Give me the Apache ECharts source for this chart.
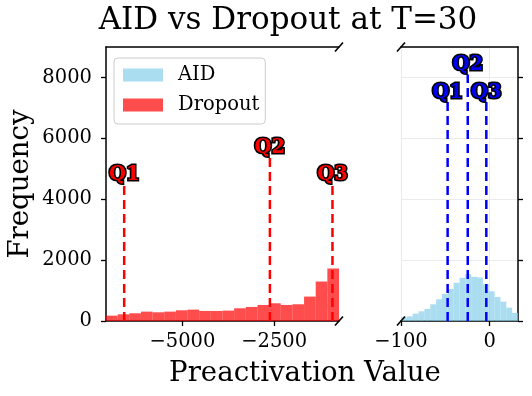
<!DOCTYPE html>
<html>
<head>
<meta charset="utf-8">
<script src="https://cdn.jsdelivr.net/npm/echarts@6/dist/echarts.min.js"></script>
<style>
html, body { margin: 0; padding: 0; background: #fff; }
#chart { width: 532px; height: 396px; }
</style>
</head>
<body>
<div id="chart"></div>
<script>
// histogram data (20 bins per panel)
var dropoutRange = [-7080, -735];
var dropoutCounts = [176, 220, 253, 308, 286, 308, 352, 374, 330, 330, 341, 418, 462, 527, 582, 527, 550, 802, 1297, 1725];
var aidRange = [-100, 32];
var aidCounts = [121, 154, 242, 319, 396, 549, 714, 890, 1055, 1253, 1418, 1538, 1451, 1429, 1209, 978, 791, 637, 440, 264];

// quartile markers and the height the dashed line goes up to
var quartileNames = ['Q1', 'Q2', 'Q3'];
var dropoutQuartiles = [-6585, -2617, -913];
var dropoutQuartileTops = [4500, 5400, 4500];
var aidQuartiles = [-47.4, -24.7, -3.75];
var aidQuartileTops = [7200, 8100, 7200];

var yMax = 9000;
var yTicks = [0, 2000, 4000, 6000, 8000];
var dropoutTicks = [-5000, -2500];
var aidTicks = [-100, 0];

var RED = 'rgba(255,0,0,0.7)';
var BLUE = 'rgba(135,206,235,0.7)';
var FONT = 'DejaVu Serif';

function toBins(range, counts) {
	var w = (range[1] - range[0]) / counts.length;
	var out = [];
	for (var i = 0; i < counts.length; i++) {
		out.push([range[0] + i * w, range[0] + (i + 1) * w, counts[i]]);
	}
	return out;
}

function quartileData(xs, tops) {
	var out = [];
	for (var i = 0; i < xs.length; i++) {
		out.push([xs[i], tops[i], quartileNames[i]]);
	}
	return out;
}

function histRenderer(color) {
	return function (params, api) {
		var p0 = api.coord([api.value(0), api.value(2)]);
		var p1 = api.coord([api.value(1), 0]);
		return {
			type: 'rect',
			shape: { x: p0[0], y: p0[1], width: p1[0] - p0[0], height: p1[1] - p0[1] },
			style: { fill: color }
		};
	};
}

function quartileRenderer(color) {
	return function (params, api) {
		var x = api.value(0);
		var top = api.coord([x, api.value(1)]);
		var bottom = api.coord([x, 0]);
		return {
			type: 'group',
			children: [{
				type: 'line',
				shape: { x1: bottom[0], y1: bottom[1], x2: top[0], y2: top[1] },
				style: { stroke: color, lineWidth: 2.5, lineDash: [9, 5] }
			}, {
				type: 'text',
				x: top[0],
				y: top[1] + 1,
				style: {
					text: api.value(2),
					fill: color,
					font: 'bold 19.5px "' + FONT + '"',
					textAlign: 'center', textVerticalAlign: 'bottom',
					align: 'center', verticalAlign: 'bottom',
					stroke: '#000', lineWidth: 3.2
				}
			}]
		};
	};
}

function breakRenderer(params, api) {
	var p = api.coord([api.value(0), api.value(1)]);
	return {
		type: 'line',
		shape: { x1: p[0] - 4, y1: p[1] + 4.5, x2: p[0] + 4, y2: p[1] - 4.5 },
		style: { stroke: '#000', lineWidth: 1.6 }
	};
}

function minusFmt(v) {
	return String(v).replace('-', '\u2212');
}

var axisLineStyle = { color: '#000', width: 1.5 };
var tickStyle = { color: '#000', width: 1.3 };
var labelStyle = { color: '#000', fontFamily: FONT, fontSize: 19.5 };

var chart = echarts.init(document.getElementById('chart'));
chart.setOption({
	animation: false,
	graphic: [{
		type: 'text', x: 288, y: 21,
		style: { text: 'AID vs Dropout at T=30', font: '31px "' + FONT + '"', fill: '#000',
			textAlign: 'center', textVerticalAlign: 'middle', align: 'center', verticalAlign: 'middle' }
	}, {
		type: 'text', x: 305, y: 374,
		style: { text: 'Preactivation Value', font: '27.6px "' + FONT + '"', fill: '#000',
			textAlign: 'center', textVerticalAlign: 'middle', align: 'center', verticalAlign: 'middle' }
	}, {
		type: 'text', x: 21, y: 184, rotation: Math.PI / 2,
		style: { text: 'Frequency', font: '27.6px "' + FONT + '"', fill: '#000',
			textAlign: 'center', textVerticalAlign: 'middle', align: 'center', verticalAlign: 'middle' }
	}],
	legend: {
		orient: 'vertical',
		left: 114, top: 58,
		data: [
			{ name: 'AID', itemStyle: { color: BLUE } },
			{ name: 'Dropout', itemStyle: { color: RED } }
		],
		icon: 'rect',
		itemWidth: 40, itemHeight: 13,
		itemGap: 10,
		padding: [7, 6, 9, 9],
		borderColor: '#cccccc', borderWidth: 1, borderRadius: 4,
		textStyle: { color: '#000', fontFamily: FONT, fontSize: 19.5, padding: [0, 0, 0, 10] }
	},
	grid: [
		{ left: 106, top: 47, width: 233, height: 274 },
		{ left: 401, top: 47, width: 117, height: 274 }
	],
	xAxis: [{
		gridIndex: 0, type: 'value', position: 'bottom',
		min: dropoutRange[0], max: dropoutRange[1],
		axisLine: { onZero: false, lineStyle: axisLineStyle },
		axisTick: { show: true, length: 5, lineStyle: tickStyle, customValues: dropoutTicks },
		axisLabel: Object.assign({ margin: 11, customValues: dropoutTicks, formatter: minusFmt }, labelStyle),
		splitLine: { show: false }
	}, {
		gridIndex: 0, type: 'value', position: 'top',
		min: dropoutRange[0], max: dropoutRange[1],
		axisLine: { onZero: false, lineStyle: axisLineStyle },
		axisTick: { show: false }, axisLabel: { show: false }, splitLine: { show: false }
	}, {
		gridIndex: 1, type: 'value', position: 'bottom',
		min: aidRange[0], max: aidRange[1],
		axisLine: { onZero: false, lineStyle: axisLineStyle },
		axisTick: { show: true, length: 5, lineStyle: tickStyle, customValues: aidTicks },
		axisLabel: Object.assign({ margin: 11, customValues: aidTicks, formatter: minusFmt }, labelStyle),
		splitLine: { show: true, lineStyle: { color: '#ebebeb', width: 1 } }
	}, {
		gridIndex: 1, type: 'value', position: 'top',
		min: aidRange[0], max: aidRange[1],
		axisLine: { onZero: false, lineStyle: axisLineStyle },
		axisTick: { show: false }, axisLabel: { show: false }, splitLine: { show: false }
	}],
	yAxis: [{
		gridIndex: 0, type: 'value', position: 'left',
		min: 0, max: yMax,
		axisLine: { show: true, onZero: false, lineStyle: axisLineStyle },
		axisTick: { show: true, length: 5, lineStyle: tickStyle, customValues: yTicks },
		axisLabel: Object.assign({ margin: 14, customValues: yTicks, formatter: function (v) { return String(v); } }, labelStyle),
		splitLine: { show: false }
	}, {
		gridIndex: 1, type: 'value', position: 'right',
		min: 0, max: yMax,
		axisLine: { show: true, onZero: false, lineStyle: axisLineStyle },
		axisTick: { show: true, length: 5, lineStyle: tickStyle, customValues: yTicks },
		axisLabel: { show: false, customValues: yTicks },
		splitLine: { show: true, lineStyle: { color: '#ebebeb', width: 1 } }
	}],
	series: [{
		name: 'Dropout', type: 'custom', xAxisIndex: 0, yAxisIndex: 0,
		itemStyle: { color: RED },
		renderItem: histRenderer(RED),
		encode: { x: [0, 1], y: 2 },
		data: toBins(dropoutRange, dropoutCounts)
	}, {
		name: 'AID', type: 'custom', xAxisIndex: 2, yAxisIndex: 1,
		itemStyle: { color: BLUE },
		renderItem: histRenderer(BLUE),
		encode: { x: [0, 1], y: 2 },
		data: toBins(aidRange, aidCounts)
	}, {
		name: 'dropoutQ', type: 'custom', xAxisIndex: 0, yAxisIndex: 0, z: 5,
		renderItem: quartileRenderer('#ff0000'),
		encode: { x: 0, y: 1 },
		data: quartileData(dropoutQuartiles, dropoutQuartileTops)
	}, {
		name: 'aidQ', type: 'custom', xAxisIndex: 2, yAxisIndex: 1, z: 5,
		renderItem: quartileRenderer('#0000ff'),
		encode: { x: 0, y: 1 },
		data: quartileData(aidQuartiles, aidQuartileTops)
	}, {
		name: 'breakL', type: 'custom', xAxisIndex: 0, yAxisIndex: 0, z: 6,
		renderItem: breakRenderer,
		data: [[dropoutRange[1], 0], [dropoutRange[1], yMax]]
	}, {
		name: 'breakR', type: 'custom', xAxisIndex: 2, yAxisIndex: 1, z: 6,
		renderItem: breakRenderer,
		data: [[aidRange[0], 0], [aidRange[0], yMax]]
	}]
});
</script>
</body>
</html>
